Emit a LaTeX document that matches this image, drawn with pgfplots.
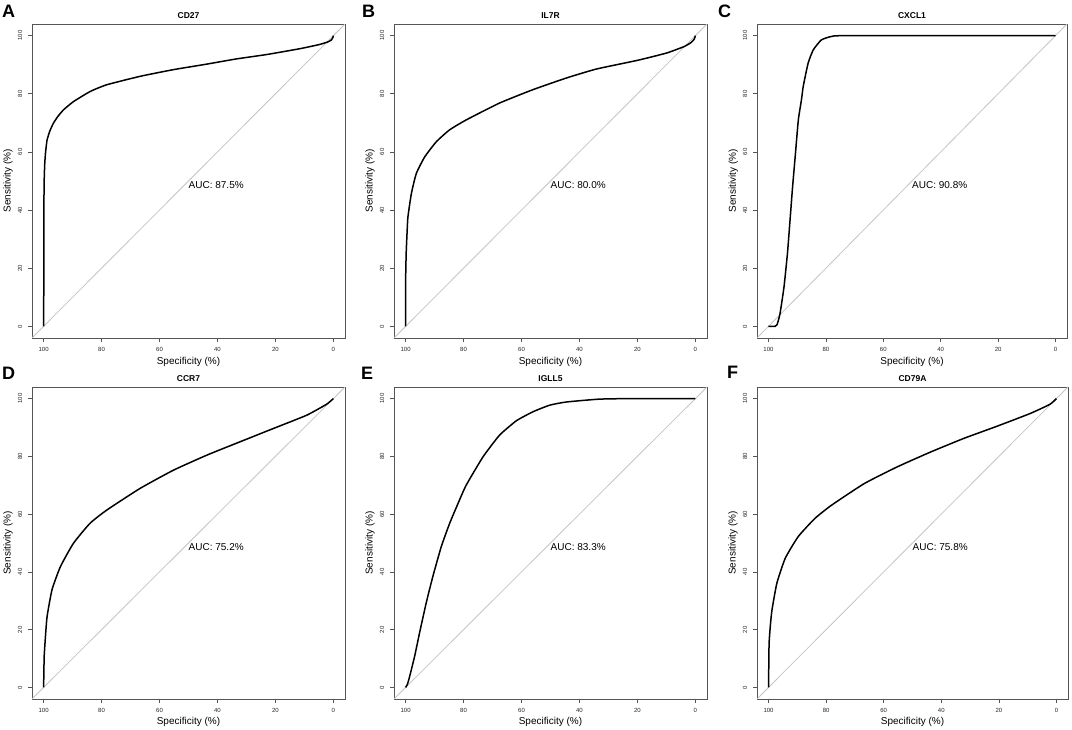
\documentclass[border=0pt]{standalone}
\usepackage{fontspec}
\setmainfont{Liberation Sans}
\usepackage{pgfplots}
\pgfplotsset{compat=1.18}
\definecolor{boxgray}{HTML}{555555}
\definecolor{diag}{HTML}{C4C4C4}
\pgfplotsset{
  rocax/.style={
    scale only axis,
    width=313pt, height=314pt,
    xmin=-4, xmax=104, ymin=-4, ymax=104,
    x dir=reverse,
    xtick={0,20,40,60,80,100},
    ytick={0,20,40,60,80,100},
    tick align=outside,
    major tick length=4pt,
    tick style={boxgray, line width=0.6pt},
    axis line style={boxgray, line width=0.8pt},
    xtick pos=bottom, ytick pos=left,
    /pgf/number format/assume math mode=true,
    ticklabel style={font=\fontsize{6}{7}\selectfont, text=black!85},
    yticklabel style={rotate=90, anchor=south, inner xsep=1pt, inner ysep=5.5pt},
    xticklabel style={anchor=north, inner xsep=1pt, inner ysep=5.5pt},
    xlabel={Specificity (\%)},
    ylabel={Sensitivity (\%)},
    label style={font=\fontsize{10}{12}\selectfont},
    xlabel style={at={(axis description cs:0.5,-0.075)}, anchor=center},
    ylabel style={at={(axis description cs:-0.0767,0.5)}, anchor=center},
    clip mode=individual,
  },
  roc/.style={black, line width=1.5pt, smooth, tension=0.3},
  diagl/.style={diag, line width=0.8pt},
}
\tikzset{
  ttl/.style={anchor=center, yshift=8pt, inner sep=0pt, font=\bfseries\fontsize{8.5}{10}\selectfont},
  auc/.style={anchor=north west, inner sep=0pt, font=\fontsize{10}{12}\selectfont},
}
\begin{document}
\begin{tikzpicture}
\useasboundingbox (0pt,0pt) rectangle (1072pt,729pt);
% ---------- A ----------
\begin{axis}[rocax, at={(32pt,391pt)}, anchor=south west]
\addplot[diagl] coordinates {(104,-4) (-4,104)};
\addplot[roc] coordinates {(100,0) (99.9,20) (99.9,40) (99.8,50) (99.6,56) (99.3,60) (98.8,64.1) (97.8,67.3) (96.6,69.9) (95,72.3) (93.1,74.5) (89.7,77.3) (83.9,80.8) (78.2,83.1) (66.7,86) (55.2,88.3) (43.7,90.2) (33.4,92) (23,93.5) (11.6,95.5) (5,96.9) (2,97.8) (0.7,98.5) (0.2,99.3) (0,100)};
\node[auc] at (axis cs:50,50) {AUC: 87.5\%};
\node[ttl] at (rel axis cs:0.5,1) {CD27};
\end{axis}
% ---------- B ----------
\begin{axis}[rocax, at={(394pt,391pt)}, anchor=south west]
\addplot[diagl] coordinates {(104,-4) (-4,104)};
\addplot[roc] coordinates {(100,0) (100,15) (99.8,25) (99.5,32) (99.2,37.6) (98,45.7) (96.3,52.6) (93.4,58.3) (89.4,63.5) (84.8,67.6) (79.1,71) (67.6,76.8) (56.1,81.4) (44.6,85.4) (34.2,88.5) (20,91.5) (10,94) (4,96.2) (1.5,97.6) (0.4,98.8) (0,100)};
\node[auc] at (axis cs:50,50) {AUC: 80.0\%};
\node[ttl] at (rel axis cs:0.5,1) {IL7R};
\end{axis}
% ---------- C ----------
\begin{axis}[rocax, at={(757pt,391pt)}, anchor=south west, width=310pt]
\addplot[diagl] coordinates {(104,-4) (-4,104)};
\addplot[roc] coordinates {(100,0) (97.7,0) (97,0.6) (96,4.3) (94.6,13.5) (93.4,25) (92.5,36.4) (91.6,48) (90.6,59.5) (89.6,71) (88.5,78) (87.9,82.5) (86.2,90.5) (84.4,95.1) (81.6,98.5) (78.1,99.7) (72,100) (0,100)};
\node[auc] at (axis cs:50,50) {AUC: 90.8\%};
\node[ttl] at (rel axis cs:0.5,1) {CXCL1};
\end{axis}
% ---------- D ----------
\begin{axis}[rocax, at={(32pt,30pt)}, anchor=south west, height=312pt]
\addplot[diagl] coordinates {(104,-4) (-4,104)};
\addplot[roc] coordinates {(100,0) (99.9,5) (99.8,10.7) (99.4,17) (98.8,24.5) (97.1,33.8) (94.2,41.8) (89.7,49.9) (84,56.8) (78.2,61.4) (66.7,68.9) (55.2,75.2) (43.7,80.4) (32.3,85) (20.8,89.6) (9.3,94.2) (2.4,98) (0,100)};
\node[auc] at (axis cs:50,50) {AUC: 75.2\%};
\node[ttl] at (rel axis cs:0.5,1) {CCR7};
\end{axis}
% ---------- E ----------
\begin{axis}[rocax, at={(394pt,30pt)}, anchor=south west, height=312pt]
\addplot[diagl] coordinates {(104,-4) (-4,104)};
\addplot[roc] coordinates {(100,0) (99.4,1) (98.6,3.8) (96.9,10.7) (95.2,18.8) (92.9,29.2) (90.6,38.4) (87.7,48.7) (84.8,56.8) (81.9,63.7) (79.1,70) (73.3,79.8) (67.6,87.3) (61.8,92.3) (56.1,95.4) (50.3,97.7) (44.6,98.8) (33.1,99.8) (21,100) (0,100)};
\node[auc] at (axis cs:50,50) {AUC: 83.3\%};
\node[ttl] at (rel axis cs:0.5,1) {IGLL5};
\end{axis}
% ---------- F ----------
\begin{axis}[rocax, at={(757pt,30pt)}, anchor=south west, width=311pt, height=312pt]
\addplot[diagl] coordinates {(104,-4) (-4,104)};
\addplot[roc] coordinates {(100,0) (99.9,8) (99.8,15.3) (99.4,21) (98.8,26.8) (97.1,36.1) (94.2,44.7) (89.7,52.2) (83.9,58.5) (78.1,63.1) (66.7,70.6) (55.2,76.4) (43.7,81.5) (32.2,86.2) (20.7,90.4) (9.2,94.8) (2.3,98) (0,100)};
\node[auc] at (axis cs:50,50) {AUC: 75.8\%};
\node[ttl] at (rel axis cs:0.5,1) {CD79A};
\end{axis}
% panel letters
\begin{scope}[every node/.style={anchor=north west, inner sep=0pt, font=\bfseries\fontsize{18}{18}\selectfont}]
\node at (2pt,724pt) {A};
\node at (362pt,724pt) {B};
\node at (718pt,724pt) {C};
\node at (2pt,362pt) {D};
\node at (361pt,362pt) {E};
\node at (727pt,363pt) {F};
\end{scope}
\end{tikzpicture}
\end{document}
